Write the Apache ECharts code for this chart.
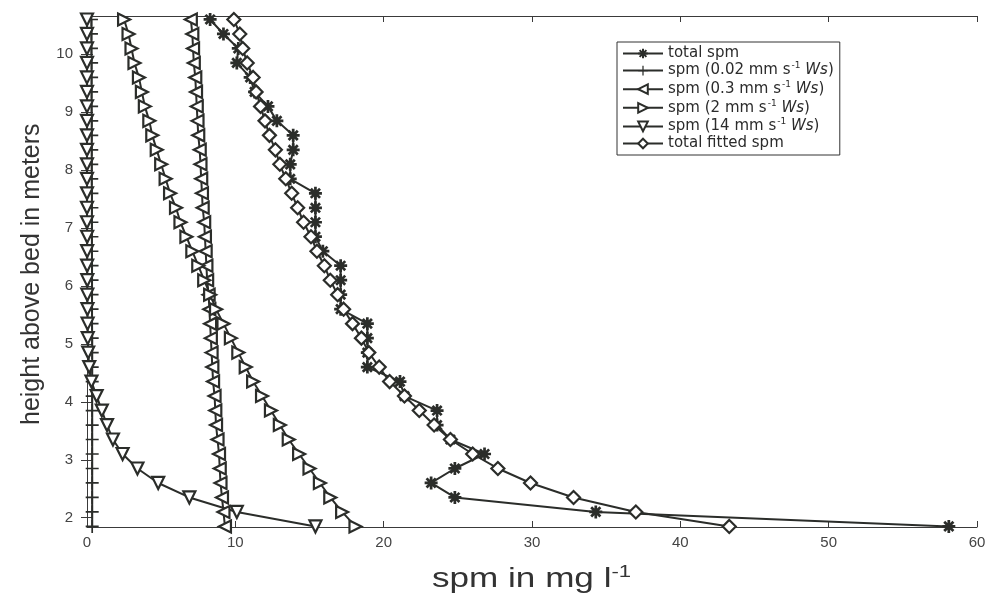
<!DOCTYPE html>
<html><head><meta charset="utf-8">
<script src="https://cdn.jsdelivr.net/npm/echarts@6/dist/echarts.min.js"></script>
<style>html,body{margin:0;padding:0;background:#fff}#c{width:993px;height:593px}</style>
</head><body><div id="c"></div>
<script>
// heights above bed (m)
const heights = [1.85,2.10,2.35,2.60,2.85,3.10,3.35,3.60,3.85,4.10,4.35,4.60,4.85,5.10,5.35,5.60,5.85,6.10,6.35,6.60,6.85,7.10,7.35,7.60,7.85,8.10,8.35,8.60,8.85,9.10,9.35,9.60,9.85,10.10,10.35,10.60];
// measured total spm (mg/l)
const totalSpm = [58.1,34.3,24.8,23.2,24.8,26.8,24.5,23.6,23.6,21.4,21.1,18.9,18.9,18.9,18.9,17.1,17.1,17.1,17.1,15.9,15.4,15.4,15.4,15.4,13.7,13.7,13.9,13.9,12.8,12.2,11.3,11.0,10.1,10.2,9.2,8.3];
const spm002 = [0.35,0.35,0.35,0.35,0.35,0.35,0.35,0.35,0.35,0.35,0.35,0.35,0.35,0.35,0.34,0.34,0.34,0.34,0.34,0.33,0.33,0.33,0.33,0.33,0.32,0.32,0.32,0.32,0.32,0.31,0.31,0.31,0.31,0.30,0.30,0.30];
const spm03 = [9.3,9.2,9.1,9.0,8.95,8.9,8.8,8.7,8.65,8.6,8.5,8.45,8.4,8.35,8.3,8.25,8.2,8.1,8.05,8.0,7.95,7.9,7.8,7.75,7.7,7.65,7.6,7.5,7.45,7.4,7.35,7.3,7.2,7.15,7.1,7.0];
const spm2 = [18.1,17.2,16.4,15.7,15.0,14.3,13.6,13.0,12.4,11.8,11.2,10.7,10.2,9.7,9.2,8.7,8.3,7.9,7.5,7.1,6.7,6.3,6.0,5.6,5.3,5.0,4.7,4.4,4.2,3.9,3.7,3.5,3.2,3.0,2.8,2.5];
const spm14 = [15.4,10.1,6.9,4.8,3.4,2.4,1.75,1.35,1.0,0.65,0.3,0.15,0.08,0.05,0.04,0.03,0.02,0.02,0.01,0.01,0.01,0,0,0,0,0,0,0,0,0,0,0,0,0,0,0];
const fittedSpm = [43.3,37.0,32.8,29.9,27.7,26.0,24.5,23.4,22.4,21.4,20.4,19.7,19.0,18.5,17.9,17.3,16.9,16.4,16.0,15.5,15.1,14.6,14.2,13.8,13.4,13.0,12.7,12.3,12.0,11.7,11.4,11.2,10.8,10.5,10.3,9.9];
const xTicks = [0,10,20,30,40,50,60];
const yTicks = [2,3,4,5,6,7,8,9,10];
const names = ['total spm','spm (0.02 mm s-1 Ws)','spm (0.3 mm s-1 Ws)','spm (2 mm s-1 Ws)','spm (14 mm s-1 Ws)','total fitted spm'];
const legendRich = {
  'total spm':'{n|total spm}',
  'spm (0.02 mm s-1 Ws)':'{n|spm (0.02 mm s}{s|-1}{n| }{i|Ws}{n|)}',
  'spm (0.3 mm s-1 Ws)':'{n|spm (0.3 mm s}{s|-1}{n| }{i|Ws}{n|)}',
  'spm (2 mm s-1 Ws)':'{n|spm (2 mm s}{s|-1}{n| }{i|Ws}{n|)}',
  'spm (14 mm s-1 Ws)':'{n|spm (14 mm s}{s|-1}{n| }{i|Ws}{n|)}',
  'total fitted spm':'{n|total fitted spm}'
};

const INK = '#2b2d2a';
function barsPath(angles, hl, hw){
  let d = '';
  angles.forEach(a => {
    const r = a*Math.PI/180, c = Math.cos(r), s = Math.sin(r);
    const pts = [[-hl,-hw],[hl,-hw],[hl,hw],[-hl,hw]].map(p => [(p[0]*c - p[1]*s).toFixed(2), (p[0]*s + p[1]*c).toFixed(2)]);
    d += 'M' + pts.map(p => p.join(',')).join('L') + 'Z';
  });
  return 'path://' + d;
}
const starSym = barsPath([0,45,90,135], 10, 2.1);
const plusSym = barsPath([0,90], 10, 1.3);

function mk(name, vals, symbol, rot, size, filled){
  return {
    name, type:'line', data: vals.map((v,i)=>[v, heights[i]]),
    symbol, symbolRotate: rot, symbolSize: size, clip:false,
    lineStyle:{color:INK, width:2},
    itemStyle:{color: filled ? INK : '#fff', borderColor: INK, borderWidth: filled ? 0 : 2.2},
    emphasis:{disabled:true}, animation:false
  };
}

const chart = echarts.init(document.getElementById('c'), null, {renderer:'canvas'});
const axisCommon = {
  axisLine:{show:true, lineStyle:{color:'#3a3a3a', width:1}},
  axisTick:{show:true, inside:true, length:6, lineStyle:{color:'#3a3a3a'}},
  splitLine:{show:false}
};
chart.setOption({
  backgroundColor:'#fff',
  animation:false,
  grid:{left:87, right:16, top:16, bottom:66, containLabel:false},
  xAxis:[
    Object.assign({type:'value', min:0, max:60, interval:10, position:'bottom',
      axisLabel:{color:'#444', fontSize:15, fontFamily:'Liberation Sans', margin:8, customValues:xTicks}}, axisCommon),
    Object.assign({type:'value', min:0, max:60, interval:10, position:'top', axisLabel:{show:false}}, axisCommon)
  ],
  yAxis:[
    Object.assign({type:'value', min:1.84, max:10.66, position:'left',
      axisLabel:{color:'#444', fontSize:15, fontFamily:'Liberation Sans', margin:14, customValues:yTicks}}, axisCommon,
      {axisTick:{show:true, inside:true, length:6, lineStyle:{color:'#3a3a3a'}, customValues:yTicks}}),
    Object.assign({type:'value', min:1.84, max:10.66, position:'right', axisLabel:{show:false}}, axisCommon,
      {axisTick:{show:true, inside:true, length:6, lineStyle:{color:'#3a3a3a'}, customValues:yTicks}})
  ],
  legend:{
    data: names, orient:'vertical', left:617, top:42,
    backgroundColor:'#fff', borderColor:'#333', borderWidth:1,
    padding:[4,6,4,5], itemWidth:40, itemHeight:12, itemGap:0.6,
    formatter: n => legendRich[n],
    selectedMode:false,
    textStyle:{color:'#2b2b2b', fontFamily:'DejaVu Sans', fontSize:15,
      rich:{
        n:{fontFamily:'DejaVu Sans', fontSize:15, lineHeight:16, color:'#2b2b2b'},
        i:{fontFamily:'DejaVu Sans', fontStyle:'italic', fontSize:15, lineHeight:16, color:'#2b2b2b'},
        s:{fontFamily:'DejaVu Sans', fontSize:9, lineHeight:16, padding:[0,0,9,1], color:'#2b2b2b'}
      }}
  },
  graphic:[
    {type:'text', x:432, y:564, scaleX:1.3, style:{
      text:'{a|spm in mg l}{b|-1}', fill:'#333',
      rich:{a:{fontFamily:'Liberation Sans', fontSize:27, fill:'#333'},
            b:{fontFamily:'Liberation Sans', fontSize:17, padding:[0,0,14,0], fill:'#333'}}
    }},
    {type:'text', rotation:Math.PI/2, x:20, y:425, style:{
      text:'height above bed in meters', fill:'#333', font:'25px "Liberation Sans"'
    }}
  ],
  series:[
    mk(names[0], totalSpm, starSym, 0, 13, true),
    mk(names[1], spm002, plusSym, 0, 13, true),
    mk(names[2], spm03, 'triangle', 90, 12, false),
    mk(names[3], spm2, 'triangle', -90, 12, false),
    mk(names[4], spm14, 'triangle', 180, 12, false),
    mk(names[5], fittedSpm, 'diamond', 0, 13, false)
  ]
});
</script>
</body></html>
